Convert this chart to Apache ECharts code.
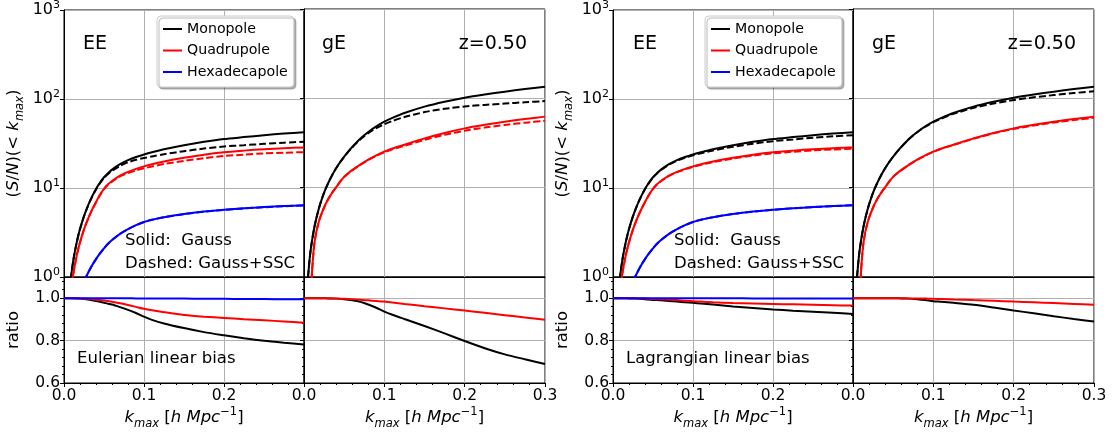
<!DOCTYPE html>
<html><head><meta charset="utf-8">
<script src="https://cdn.jsdelivr.net/npm/echarts@6/dist/echarts.min.js"></script>
<style>html,body{margin:0;padding:0;background:#fff}#c{width:1115px;height:432px}</style>
</head><body><div id="c"></div><script>
// ---------- data ----------
const K_SN = [0.005, 0.0075, 0.01, 0.0125, 0.015, 0.0175, 0.02, 0.025, 0.03, 0.035, 0.04, 0.045, 0.05, 0.055, 0.06, 0.07, 0.08, 0.09, 0.1, 0.11, 0.125, 0.15, 0.175, 0.2, 0.225, 0.25, 0.275, 0.3];
const K_RATIO = [0, 0.01, 0.02, 0.03, 0.04, 0.05, 0.06, 0.07, 0.08, 0.09, 0.1, 0.11, 0.125, 0.15, 0.175, 0.2, 0.225, 0.25, 0.275, 0.3];
const X_TICKS = [0.0, 0.1, 0.2, 0.3];
const Y_LOG_TICKS = [1, 10, 100, 1000];
const Y_RATIO_TICKS = [0.6, 0.8, 1.0];
const LEGEND_NAMES = ['Monopole', 'Quadrupole', 'Hexadecapole'];

// Gauss (solid) S/N, same for both bias models
const EE_MONO_GAUSS = [0.43, 0.79, 1.22, 1.71, 2.24, 2.83, 3.46, 4.83, 6.35, 8.0, 9.77, 11.5, 13.2, 14.7, 16.1, 18.5, 20.6, 22.3, 23.8, 25.2, 27.2, 30.2, 33.0, 35.5, 37.3, 39.2, 40.9, 42.4];
const EE_QUAD_GAUSS = [0.3, 0.56, 0.87, 1.21, 1.59, 2.01, 2.45, 3.43, 4.5, 5.68, 6.95, 8.4, 9.8, 11.0, 12.0, 13.8, 15.2, 16.4, 17.5, 18.5, 19.9, 21.9, 23.7, 25.2, 26.3, 27.3, 28.0, 28.6];
const EE_HEXA_GAUSS = [0.12, 0.2, 0.28, 0.37, 0.47, 0.57, 0.67, 0.89, 1.11, 1.35, 1.59, 1.84, 2.1, 2.36, 2.6, 3.05, 3.45, 3.82, 4.15, 4.4, 4.7, 5.1, 5.43, 5.7, 5.92, 6.1, 6.27, 6.4];
const GE_MONO_GAUSS = [1.0, 1.75, 2.55, 3.45, 4.4, 5.4, 6.5, 8.8, 11.2, 13.8, 16.5, 19.3, 22.2, 25.3, 28.5, 35.3, 42.0, 48.5, 54.8, 60.4, 68.5, 80.7, 91.6, 101.7, 110.5, 118.8, 127.0, 135.0];
const GE_QUAD_GAUSS = [0.2, 0.45, 1.15, 2.2, 3.1, 3.85, 4.6, 6.0, 7.4, 8.75, 10.1, 11.7, 13.2, 14.5, 15.7, 18.1, 20.6, 23.0, 25.3, 27.4, 30.2, 35.6, 41.0, 46.1, 50.5, 54.8, 58.7, 62.4];

// Gauss+SSC (dashed) S/N — Eulerian
const EUL_EE_MONO_SSC = [0.43, 0.79, 1.22, 1.71, 2.24, 2.83, 3.45, 4.81, 6.31, 7.93, 9.64, 11.3, 12.92, 14.33, 15.62, 17.72, 19.47, 20.74, 21.73, 22.63, 23.96, 25.94, 27.72, 29.29, 30.25, 31.32, 32.31, 33.16];
const EUL_EE_QUAD_SSC = [0.3, 0.56, 0.87, 1.21, 1.59, 2.01, 2.45, 3.42, 4.49, 5.65, 6.9, 8.32, 9.69, 10.85, 11.8, 13.47, 14.71, 15.73, 16.63, 17.45, 18.59, 20.17, 21.64, 22.86, 23.7, 24.46, 24.92, 25.28];
const EUL_EE_HEXA_SSC = [0.12, 0.2, 0.28, 0.37, 0.47, 0.57, 0.67, 0.89, 1.11, 1.35, 1.59, 1.84, 2.1, 2.36, 2.6, 3.05, 3.45, 3.82, 4.15, 4.39, 4.69, 5.09, 5.42, 5.68, 5.9, 6.08, 6.24, 6.37];
const EUL_GE_MONO_SSC = [1.0, 1.75, 2.55, 3.45, 4.4, 5.4, 6.5, 8.8, 11.19, 13.79, 16.47, 19.24, 22.09, 25.12, 28.22, 34.7, 40.74, 46.32, 51.35, 55.69, 61.79, 70.13, 76.39, 81.16, 84.42, 87.32, 90.42, 93.15];
const EUL_GE_QUAD_SSC = [0.2, 0.45, 1.15, 2.2, 3.1, 3.85, 4.6, 6.0, 7.4, 8.75, 10.09, 11.68, 13.16, 14.44, 15.62, 17.97, 20.39, 22.7, 24.9, 26.85, 29.38, 34.25, 39.03, 43.43, 47.02, 50.42, 53.36, 56.04];
// Gauss+SSC (dashed) S/N — Lagrangian
const LAG_EE_MONO_SSC = [0.43, 0.79, 1.22, 1.71, 2.24, 2.83, 3.46, 4.83, 6.34, 7.98, 9.72, 11.43, 13.09, 14.57, 15.94, 18.26, 20.27, 21.88, 23.28, 24.57, 26.38, 29.02, 31.48, 33.62, 35.1, 36.69, 38.08, 39.26];
const LAG_EE_QUAD_SSC = [0.3, 0.56, 0.87, 1.21, 1.59, 2.01, 2.45, 3.43, 4.5, 5.67, 6.94, 8.37, 9.76, 10.96, 11.94, 13.7, 15.06, 16.2, 17.26, 18.2, 19.52, 21.4, 23.11, 24.52, 25.54, 26.45, 27.08, 27.6];
const LAG_EE_HEXA_SSC = [0.12, 0.2, 0.28, 0.37, 0.47, 0.57, 0.67, 0.89, 1.11, 1.35, 1.59, 1.84, 2.1, 2.36, 2.6, 3.05, 3.45, 3.82, 4.15, 4.4, 4.7, 5.1, 5.42, 5.69, 5.91, 6.09, 6.26, 6.39];
const LAG_GE_MONO_SSC = [1.0, 1.75, 2.55, 3.45, 4.4, 5.4, 6.5, 8.8, 11.2, 13.8, 16.5, 19.3, 22.2, 25.3, 28.47, 35.23, 41.79, 48.06, 54.03, 59.37, 66.99, 78.2, 87.57, 95.8, 102.65, 108.7, 114.55, 120.15];
const LAG_GE_QUAD_SSC = [0.2, 0.45, 1.15, 2.2, 3.1, 3.85, 4.6, 6.0, 7.4, 8.75, 10.1, 11.7, 13.2, 14.5, 15.7, 18.08, 20.58, 22.95, 25.22, 27.29, 30.02, 35.28, 40.51, 45.36, 49.54, 53.54, 57.12, 60.47];

// ratio (Gauss+SSC / Gauss)
const EUL_EE_MONO_RATIO = [1, 1, 0.998, 0.994, 0.987, 0.979, 0.970, 0.958, 0.945, 0.930, 0.913, 0.898, 0.881, 0.859, 0.840, 0.825, 0.811, 0.799, 0.790, 0.782];
const EUL_EE_QUAD_RATIO = [1, 1, 0.999, 0.997, 0.993, 0.989, 0.983, 0.976, 0.968, 0.959, 0.950, 0.943, 0.934, 0.921, 0.913, 0.907, 0.901, 0.896, 0.890, 0.884];
const EUL_EE_HEXA_RATIO = [1, 1, 1, 1, 1, 1, 1, 1, 1, 0.999, 0.999, 0.999, 0.998, 0.998, 0.997, 0.997, 0.996, 0.996, 0.995, 0.995];
const EUL_GE_MONO_RATIO = [1, 1, 1, 0.999, 0.998, 0.995, 0.990, 0.983, 0.970, 0.955, 0.937, 0.922, 0.902, 0.869, 0.834, 0.798, 0.764, 0.735, 0.712, 0.690];
const EUL_GE_QUAD_RATIO = [1, 1, 1, 1, 0.999, 0.997, 0.995, 0.993, 0.990, 0.987, 0.984, 0.980, 0.973, 0.962, 0.952, 0.942, 0.931, 0.920, 0.909, 0.898];
const LAG_EE_MONO_RATIO = [1, 1, 0.999, 0.998, 0.995, 0.992, 0.990, 0.987, 0.984, 0.981, 0.978, 0.975, 0.970, 0.961, 0.954, 0.947, 0.941, 0.936, 0.931, 0.926];
const LAG_EE_QUAD_RATIO = [1, 1, 1, 0.999, 0.998, 0.996, 0.995, 0.993, 0.991, 0.988, 0.986, 0.984, 0.981, 0.977, 0.975, 0.973, 0.971, 0.969, 0.967, 0.965];
const LAG_EE_HEXA_RATIO = [1, 1, 1, 1, 1, 1, 1, 1, 1, 1, 1, 1, 1, 1, 0.999, 0.999, 0.999, 0.999, 0.999, 0.999];
const LAG_GE_MONO_RATIO = [1, 1, 1, 1, 1, 1, 0.999, 0.998, 0.995, 0.991, 0.986, 0.983, 0.978, 0.969, 0.956, 0.942, 0.929, 0.915, 0.902, 0.890];
const LAG_GE_QUAD_RATIO = [1, 1, 1, 1, 1, 1, 1, 0.999, 0.999, 0.998, 0.997, 0.996, 0.994, 0.991, 0.988, 0.984, 0.981, 0.977, 0.973, 0.969];

// ---------- styling / layout ----------
const FONT = 'DejaVu Sans';
const BLACK = '#000000', RED = '#ff0000', BLUE = '#0000ff';
const GRIDC = '#b0b0b0';
const PANEL_LEFT = [64, 304, 613, 853];
const PANEL_W = [240, 241, 240, 241];
const TOP_Y = 9, TOP_H = 268, BOT_Y = 277, BOT_H = 106;

const grids = [];
for (let r = 0; r < 2; r++) {
  for (let c = 0; c < 4; c++) {
    grids.push({
      left: PANEL_LEFT[c], width: PANEL_W[c],
      top: r === 0 ? TOP_Y : BOT_Y, height: r === 0 ? TOP_H : BOT_H,
      show: true, borderColor: '#000', borderWidth: 1, backgroundColor: 'transparent'
    });
  }
}

const mathRich = {
  n: { fontFamily: FONT, fontSize: 16.5, lineHeight: 24, color: '#000' },
  i: { fontFamily: FONT, fontSize: 16.5, lineHeight: 24, fontStyle: 'italic', color: '#000' },
  sub: { fontFamily: FONT, fontSize: 11.5, lineHeight: 12, fontStyle: 'italic', verticalAlign: 'bottom', color: '#000' },
  sup: { fontFamily: FONT, fontSize: 11.5, lineHeight: 15, verticalAlign: 'top', color: '#000' }
};

const xAxes = [];
for (let i = 0; i < 8; i++) {
  const isBottom = i >= 4;
  const isEE = (i % 2) === 0;
  xAxes.push({
    gridIndex: i, type: 'value', min: X_TICKS[0], max: X_TICKS[X_TICKS.length - 1], interval: 0.1,
    axisLine: { show: true, onZero: false, lineStyle: { color: '#000', width: 1 } },
    axisTick: { show: isBottom, length: 4, lineStyle: { color: '#000', width: 1 } },
    minorTick: { show: isBottom, splitNumber: 5, length: 2, lineStyle: { color: '#000', width: 1 } },
    splitLine: { show: true, lineStyle: { color: GRIDC, width: 1 } },
    axisLabel: {
      show: isBottom, margin: 5, fontFamily: FONT, fontSize: 15.5, color: '#000',
      formatter: v => (isEE && v > 0.29) ? '' : v.toFixed(1)
    },
    name: isBottom ? '{i|k}{sub|max}{n| [}{i|h Mpc}{sup|−1}{n|]}' : '',
    nameLocation: 'middle', nameGap: 23,
    nameTextStyle: { rich: mathRich }
  });
}

const yAxes = [];
for (let i = 0; i < 8; i++) {
  const isBottom = i >= 4;
  const isEE = (i % 2) === 0;
  if (!isBottom) {
    yAxes.push({
      gridIndex: i, type: 'log', logBase: 10, min: Y_LOG_TICKS[0], max: Y_LOG_TICKS[Y_LOG_TICKS.length - 1],
      axisLine: { show: true, lineStyle: { color: '#000', width: 1 } },
      axisTick: { show: true, length: 4, lineStyle: { color: '#000', width: 1 } },
      splitLine: { show: true, lineStyle: { color: GRIDC, width: 1 } },
      axisLabel: {
        show: isEE, margin: 4, color: '#000',
        formatter: v => '{b|10}{s|' + Math.round(Math.log10(v)) + '}',
        rich: {
          b: { fontFamily: FONT, fontSize: 16, lineHeight: 20, color: '#000' },
          s: { fontFamily: FONT, fontSize: 11, lineHeight: 11, verticalAlign: 'top', color: '#000' }
        }
      },
      name: isEE ? '{n|(}{i|S}{n|/}{i|N}{n|)(< }{i|k}{sub|max}{n|)}' : '',
      nameLocation: 'middle', nameRotate: 90, nameGap: 38,
      nameTextStyle: { rich: mathRich }
    });
  } else {
    yAxes.push({
      gridIndex: i, type: 'value', min: 0.6, max: 1.1, interval: 0.2,
      axisLine: { show: true, onZero: false, lineStyle: { color: '#000', width: 1 } },
      axisTick: { show: true, length: 4, lineStyle: { color: '#000', width: 1 } },
      minorTick: { show: true, splitNumber: 5, length: 2, lineStyle: { color: '#000', width: 1 } },
      splitLine: { show: true, lineStyle: { color: GRIDC, width: 1 } },
      axisLabel: {
        show: isEE, margin: 4, fontFamily: FONT, fontSize: 15.5, color: '#000',
        formatter: v => Y_RATIO_TICKS.some(t => Math.abs(t - v) < 1e-6) ? v.toFixed(1) : ''
      },
      name: isEE ? '{n|ratio}' : '',
      nameLocation: 'middle', nameRotate: 90, nameGap: 38,
      nameTextStyle: { rich: mathRich }
    });
  }
}

function line(name, idx, xs, ys, color, dashed) {
  return {
    type: 'line', name: name, xAxisIndex: idx, yAxisIndex: idx,
    data: xs.map((x, j) => [x, ys[j]]),
    showSymbol: false, symbol: 'none', smooth: 0.25, clip: true, silent: true,
    lineStyle: { color: color, width: 2, type: dashed ? [7, 3] : 'solid' },
    itemStyle: { color: color }, animation: false
  };
}

const series = [
  // Eulerian EE (grid 0)
  line('Monopole', 0, K_SN, EE_MONO_GAUSS, BLACK, false),
  line('Monopole SSC', 0, K_SN, EUL_EE_MONO_SSC, BLACK, true),
  line('Quadrupole', 0, K_SN, EE_QUAD_GAUSS, RED, false),
  line('Quadrupole SSC', 0, K_SN, EUL_EE_QUAD_SSC, RED, true),
  line('Hexadecapole', 0, K_SN, EE_HEXA_GAUSS, BLUE, false),
  line('Hexadecapole SSC', 0, K_SN, EUL_EE_HEXA_SSC, BLUE, true),
  // Eulerian gE (grid 1)
  line('Monopole', 1, K_SN, GE_MONO_GAUSS, BLACK, false),
  line('Monopole SSC', 1, K_SN, EUL_GE_MONO_SSC, BLACK, true),
  line('Quadrupole', 1, K_SN, GE_QUAD_GAUSS, RED, false),
  line('Quadrupole SSC', 1, K_SN, EUL_GE_QUAD_SSC, RED, true),
  // Lagrangian EE (grid 2)
  line('Monopole', 2, K_SN, EE_MONO_GAUSS, BLACK, false),
  line('Monopole SSC', 2, K_SN, LAG_EE_MONO_SSC, BLACK, true),
  line('Quadrupole', 2, K_SN, EE_QUAD_GAUSS, RED, false),
  line('Quadrupole SSC', 2, K_SN, LAG_EE_QUAD_SSC, RED, true),
  line('Hexadecapole', 2, K_SN, EE_HEXA_GAUSS, BLUE, false),
  line('Hexadecapole SSC', 2, K_SN, LAG_EE_HEXA_SSC, BLUE, true),
  // Lagrangian gE (grid 3)
  line('Monopole', 3, K_SN, GE_MONO_GAUSS, BLACK, false),
  line('Monopole SSC', 3, K_SN, LAG_GE_MONO_SSC, BLACK, true),
  line('Quadrupole', 3, K_SN, GE_QUAD_GAUSS, RED, false),
  line('Quadrupole SSC', 3, K_SN, LAG_GE_QUAD_SSC, RED, true),
  // ratios
  line('r', 4, K_RATIO, EUL_EE_MONO_RATIO, BLACK, false),
  line('r', 4, K_RATIO, EUL_EE_QUAD_RATIO, RED, false),
  line('r', 4, K_RATIO, EUL_EE_HEXA_RATIO, BLUE, false),
  line('r', 5, K_RATIO, EUL_GE_MONO_RATIO, BLACK, false),
  line('r', 5, K_RATIO, EUL_GE_QUAD_RATIO, RED, false),
  line('r', 6, K_RATIO, LAG_EE_MONO_RATIO, BLACK, false),
  line('r', 6, K_RATIO, LAG_EE_QUAD_RATIO, RED, false),
  line('r', 6, K_RATIO, LAG_EE_HEXA_RATIO, BLUE, false),
  line('r', 7, K_RATIO, LAG_GE_MONO_RATIO, BLACK, false),
  line('r', 7, K_RATIO, LAG_GE_QUAD_RATIO, RED, false)
];

function legendAt(left) {
  return {
    data: LEGEND_NAMES, orient: 'vertical', left: left, top: 16,
    icon: 'rect', itemWidth: 19, itemHeight: 2, itemGap: 5.5,
    padding: [5, 6, 7, 6], selectedMode: false,
    backgroundColor: '#fff', borderColor: '#cccccc', borderWidth: 1, borderRadius: 4,
    shadowColor: 'rgba(0,0,0,0.3)', shadowBlur: 1, shadowOffsetX: 2, shadowOffsetY: 2,
    textStyle: { fontFamily: FONT, fontSize: 14.2, lineHeight: 16, color: '#000' }
  };
}

function txt(x, y, text, size, align) {
  return {
    type: 'text', x: x, y: y, silent: true, z: 50,
    style: { text: text, font: size + 'px "' + FONT + '"', fill: '#000', align: align || 'left', verticalAlign: 'middle' }
  };
}

const graphics = [
  txt(83, 44, 'EE', 19), txt(322, 44, 'gE', 19), txt(527, 44, 'z=0.50', 19, 'right'),
  txt(633, 44, 'EE', 19), txt(872, 44, 'gE', 19), txt(1076, 44, 'z=0.50', 19, 'right'),
  txt(125, 240.5, 'Solid:  Gauss', 16.5), txt(125, 263.5, 'Dashed: Gauss+SSC', 16.5),
  txt(674, 240.5, 'Solid:  Gauss', 16.5), txt(674, 263.5, 'Dashed: Gauss+SSC', 16.5),
  txt(77, 359, 'Eulerian linear bias', 16.5), txt(626, 359, 'Lagrangian linear bias', 16.5)
];

const chart = echarts.init(document.getElementById('c'), null, { renderer: 'canvas' });
chart.setOption({
  animation: false,
  backgroundColor: '#fff',
  textStyle: { fontFamily: FONT },
  grid: grids, xAxis: xAxes, yAxis: yAxes,
  legend: [legendAt(157), legendAt(705)],
  series: series,
  graphic: graphics
});
</script></body></html>
